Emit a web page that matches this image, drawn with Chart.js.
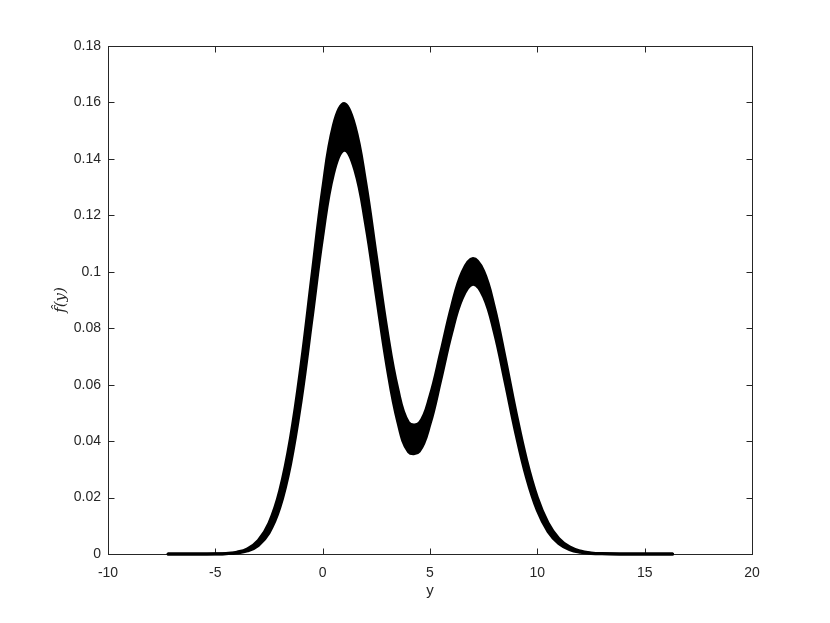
<!DOCTYPE html>
<html>
<head>
<meta charset="utf-8">
<script src="https://cdn.jsdelivr.net/npm/chart.js@4.4.0/dist/chart.umd.min.js"></script>
<style>
  html, body { margin: 0; padding: 0; background: #fff; }
</style>
</head>
<body>
<canvas id="density-chart" width="830" height="623"></canvas>
<script>
// Ước lượng mật độ f(y) - dải các đường cong (biên trên / biên dưới)

const yGrid = [-7.2, -6.5, -6, -5.5, -5, -4.5, -4, -3.5, -3, -2.5, -2, -1.5, -1, -0.5,
  0, 0.5, 1, 1.5, 2, 2.5, 3, 3.5, 4, 4.5, 5, 5.5, 6, 6.5, 7, 7.5, 8, 8.5, 9, 9.5,
  10, 10.5, 11, 11.5, 12, 12.5, 13, 14, 15, 16.3];

// đường cao nhất trong dải
const fUpper = [0, 0, 0, 0.00001, 0.00006, 0.00021, 0.00066, 0.00188, 0.00481, 0.01098,
  0.02247, 0.04110, 0.06732, 0.09868, 0.12940, 0.15186, 0.15960, 0.15175, 0.13190, 0.10560,
  0.07930, 0.05850, 0.04660, 0.04640, 0.05600, 0.07150, 0.08760, 0.09990, 0.10470, 0.10020,
  0.08741, 0.06955, 0.05042, 0.03330, 0.02005, 0.01100, 0.00550, 0.00251, 0.00104, 0.00039,
  0.00014, 0.00001, 0, 0];

// đường thấp nhất trong dải
const fLower = [0, 0, 0, 0.00001, 0.00002, 0.00010, 0.00035, 0.00108, 0.00302, 0.00746,
  0.01633, 0.03168, 0.05451, 0.08313, 0.11237, 0.13464, 0.14306, 0.13602, 0.11697, 0.09150,
  0.06630, 0.04680, 0.03620, 0.03640, 0.04600, 0.06160, 0.07800, 0.09060, 0.09560, 0.09110,
  0.07840, 0.06089, 0.04268, 0.02699, 0.01540, 0.00793, 0.00369, 0.00155, 0.00059, 0.00020,
  0.00006, 0, 0, 0];

const xTicks = [-10, -5, 0, 5, 10, 15, 20];
const xTickLabels = ['-10', '-5', '0', '5', '10', '15', '20'];
const yTicks = [0, 0.02, 0.04, 0.06, 0.08, 0.1, 0.12, 0.14, 0.16, 0.18];
const yTickLabels = ['0', '0.02', '0.04', '0.06', '0.08', '0.1', '0.12', '0.14', '0.16', '0.18'];

const axisColor = '#262626';
const sansFont = '"Liberation Sans", Arial, Helvetica, sans-serif';

// Khung hộp kiểu MATLAB, vạch chia hướng vào trong ở cả 4 cạnh
const boxAxes = {
  id: 'boxAxes',
  beforeDatasetsDraw(chart) {
    const { ctx, chartArea: a, scales: { x, y } } = chart;
    const len = 6;
    const left = a.left + 0.5, right = a.right + 0.5;
    const top = a.top + 0.5, bottom = a.bottom + 0.5;
    ctx.save();
    ctx.strokeStyle = axisColor;
    ctx.lineWidth = 1;
    ctx.strokeRect(left, top, right - left, bottom - top);
    ctx.beginPath();
    xTicks.forEach(v => {
      const px = Math.min(Math.round(x.getPixelForValue(v)) + 0.5, right);
      ctx.moveTo(px, bottom); ctx.lineTo(px, bottom - len);
      ctx.moveTo(px, top); ctx.lineTo(px, top + len);
    });
    yTicks.forEach(v => {
      const py = Math.min(Math.round(y.getPixelForValue(v)) + 0.5, bottom);
      ctx.moveTo(left, py); ctx.lineTo(left + len, py);
      ctx.moveTo(right, py); ctx.lineTo(right - len, py);
    });
    ctx.stroke();
    ctx.restore();
  }
};

const toPoints = arr => arr.map((v, i) => ({ x: yGrid[i], y: v }));

const lineStyle = {
  borderColor: '#000',
  backgroundColor: '#000',
  borderWidth: 3,
  pointRadius: 0,
  tension: 0.4,
  borderCapStyle: 'round',
  borderJoinStyle: 'round',
  clip: false
};

new Chart(document.getElementById('density-chart'), {
  type: 'line',
  data: {
    datasets: [
      { ...lineStyle, label: 'upper', data: toPoints(fUpper), fill: false },
      { ...lineStyle, label: 'lower', data: toPoints(fLower), fill: '-1' }
    ]
  },
  options: {
    responsive: false,
    animation: false,
    devicePixelRatio: 1,
    layout: { padding: { left: 0, right: 78, top: 46, bottom: 0 } },
    plugins: {
      legend: { display: false },
      tooltip: { enabled: false }
    },
    scales: {
      x: {
        type: 'linear',
        min: -10,
        max: 20,
        afterBuildTicks: s => { s.ticks = xTicks.map(v => ({ value: v })); },
        afterFit: s => { s.height = 69; },
        grid: { display: false, drawTicks: false },
        border: { display: false },
        ticks: {
          padding: 11,
          color: axisColor,
          font: { family: sansFont, size: 14 },
          callback: v => xTickLabels[xTicks.indexOf(v)]
        },
        title: {
          display: true,
          text: 'y',
          color: axisColor,
          font: { family: sansFont, size: 15 },
          padding: { top: 0, bottom: 23 }
        }
      },
      y: {
        type: 'linear',
        min: 0,
        max: 0.18,
        afterBuildTicks: s => { s.ticks = yTicks.map(v => ({ value: v })); },
        afterFit: s => { s.width = 108; },
        grid: { display: false, drawTicks: false },
        border: { display: false },
        ticks: {
          padding: 7,
          color: axisColor,
          font: { family: sansFont, size: 14 },
          callback: v => yTickLabels[yTicks.indexOf(v)]
        },
        title: {
          display: true,
          text: 'f\u0302(y)',
          color: axisColor,
          font: { family: '"DejaVu Serif", "Liberation Serif", serif', size: 15, style: 'italic' },
          padding: { top: 52, bottom: 0 }
        }
      }
    }
  },
  plugins: [boxAxes]
});
</script>
</body>
</html>
